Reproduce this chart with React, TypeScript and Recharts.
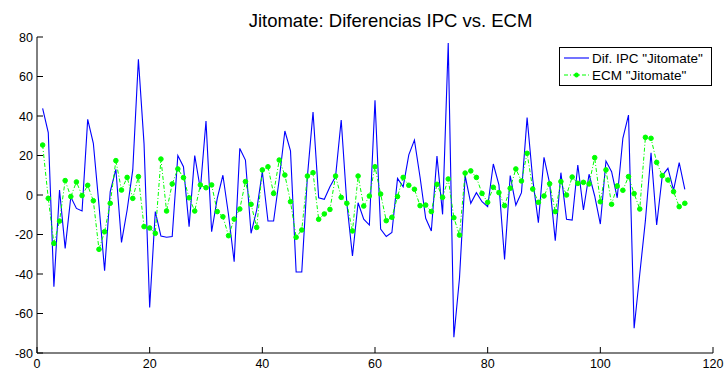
import React from "react";
import { LineChart, Line, XAxis, YAxis } from "recharts";

const TITLE = "Jitomate: Diferencias IPC vs. ECM";
const SERIES_IPC = 'Dif. IPC "Jitomate"';
const SERIES_ECM = 'ECM "Jitomate"';

const X_TICKS = [0, 20, 40, 60, 80, 100, 120];
const Y_TICKS = [-80, -60, -40, -20, 0, 20, 40, 60, 80];

const ipc = [
  43.9, 31.6, -46.4, 2.5, -27, -1, -6.8, -8.1, 38.3, 26.2,
  -5, -38.3, 1.7, 13, -24, -7.6, 12.7, 68.7, 26, -57,
  -8.4, -20.8, -21.4, -21, 20, 14.3, -16, 20, 2.9, 37.5,
  -18.6, -1.7, 10, -10, -33.8, 23.6, 17.7, -19.4, -7.6, 11.8,
  -13.2, -13.2, 8, 32.4, 22.4, -39, -39, 9.3, 42, -1.4,
  -2.2, 4.2, 9.3, 38, -4.2, -30.9, -3.9, -12.2, -15.2, 48,
  -17.2, -21, -19, 8.4, 4.2, 20.3, 27.8, 9, -11.8, -18.2,
  19.7, -9.8, 77, -72, -42, 9.8, -4.2, 1.2, -3.4, -5.9,
  15.7, 5.1, -32.6, 9.8, -5.1, 1.2, 39.2, 8, -14, 19.1,
  5.9, -23.1, 11.3, -12.3, -12.7, 15.2, -7.6, 10.5, -0.5, -14.7,
  17.2, 11.8, -1.4, 28.7, 40.5, -67.5, -40, -13, 21.4, -15.2,
  9.8, 13.5, 2.5, 16.4, 2.9,
];

const ecm = [
  25.3, -1.7, -24.5, -13.2, 7.3, -0.8, 6.6, -0.3, 4.9, -2.9,
  -27.5, -18.6, -4.2, 17.4, 2.5, 8.9, -1.7, 9.3, -16, -16.7,
  -19.4, 18.2, -8.1, 5.6, 13.2, 8.8, -1.4, -8.1, 5.1, 3.7,
  5.1, -8.4, -11, -20.6, -12.2, -7.1, 6.8, -4.7, -16.4, 12.7,
  14.3, 0.8, 17.7, 10.1, -3.4, -21.4, -17.7, 9.6, 11.3, -12.3,
  -9.6, -7.3, 9.6, -1.2, -4.2, -18.2, 9.6, -5.6, -0.5, 14.3,
  0.5, -13, -11.3, -0.8, 8.9, 4.9, 2.9, -5.4, -5.1, -8.4,
  5.4, -1.2, 8.1, -11.5, -20.3, 11.1, 12.2, 8.9, 0.8, -3.7,
  3.9, 1.2, -5.4, 3.4, 13.2, 7.1, 21.1, 3, -3.7, -0.5,
  5.7, -8.4, 6.8, 0, 9.1, 5.9, 6.4, 5.6, 18.9, -3.4,
  12.7, -4.7, 4.6, 2.4, 9.3, 0.7, -7.1, 29.2, 28.7, 16.5,
  9.8, 7.6, 1.7, -5.9, -4.2,
];

const periods = ipc.map((_, i) => i + 1);

const data = periods.map((p, i) => ({ t: p, ipc: ipc[i], ecm: ecm[i] }));

const FONT = "'Liberation Sans', Arial, Helvetica, sans-serif";
const BLUE = "#0000ff";
const GREEN = "#00ff00";
const DASH = "4 2 1 2";

const YTick = (props: any) => {
  const { x, y, payload } = props;
  const ax = x + 4;
  return (
    <g>
      <line x1={ax} y1={y} x2={ax + 6} y2={y} stroke="#000" strokeWidth={1} />
      <text x={x} y={y} dy="0.36em" textAnchor="end" fontSize={12.5} fontFamily={FONT} fill="#000">
        {payload.value}
      </text>
    </g>
  );
};

const XTick = (props: any) => {
  const { x, y, payload } = props;
  const ay = y - 4;
  return (
    <g>
      <line x1={x} y1={ay} x2={x} y2={ay - 6} stroke="#000" strokeWidth={1} />
      <text x={x} y={y + 10.5} textAnchor="middle" fontSize={12.5} fontFamily={FONT} fill="#000">
        {payload.value}
      </text>
    </g>
  );
};

const EcmDot = (props: any) => {
  const { cx, cy, index } = props;
  if (cx == null || cy == null) return <g key={index} />;
  return <circle key={index} cx={cx} cy={cy} r={2.3} fill={GREEN} stroke={GREEN} strokeWidth={1} />;
};

export default function App() {
  return (
    <div style={{ position: "absolute", left: 0, top: 0, width: 726, height: 372, background: "#fff" }}>
      <LineChart
        width={726}
        height={372}
        data={data}
        margin={{ top: 37, right: 13, bottom: 0, left: 0 }}
      >
        <XAxis
          dataKey="t"
          type="number"
          domain={[0, 120]}
          ticks={X_TICKS}
          height={19}
          tickSize={0}
          tickMargin={4}
          tickLine={false}
          axisLine={{ stroke: "#000", strokeWidth: 1 }}
          tick={<XTick />}
          interval={0}
        />
        <YAxis
          type="number"
          domain={[-80, 80]}
          ticks={Y_TICKS}
          width={37}
          tickSize={0}
          tickMargin={4}
          tickLine={false}
          axisLine={{ stroke: "#000", strokeWidth: 1 }}
          tick={<YTick />}
          interval={0}
        />
        <Line
          type="linear"
          dataKey="ipc"
          name={SERIES_IPC}
          stroke={BLUE}
          strokeWidth={1.1}
          dot={false}
          activeDot={false}
          isAnimationActive={false}
        />
        <Line
          type="linear"
          dataKey="ecm"
          name={SERIES_ECM}
          stroke={GREEN}
          strokeWidth={1}
          strokeDasharray={DASH}
          dot={<EcmDot />}
          activeDot={false}
          isAnimationActive={false}
        />
      </LineChart>
      <svg
        width={726}
        height={372}
        style={{ position: "absolute", left: 0, top: 0, pointerEvents: "none" }}
      >
        <text x={390.5} y={26.5} textAnchor="middle" fontSize={18.5} fontFamily={FONT} fill="#000">
          {TITLE}
        </text>
        <rect x={559.5} y={47.5} width={152} height={38} fill="#fff" stroke="#000" strokeWidth={1} />
        <line x1={564} y1={58} x2={589} y2={58} stroke={BLUE} strokeWidth={1.1} />
        <text x={592} y={58} dy="0.36em" fontSize={13.5} fontFamily={FONT} fill="#000">
          {SERIES_IPC}
        </text>
        <line x1={564} y1={75} x2={589} y2={75} stroke={GREEN} strokeWidth={1} strokeDasharray={DASH} />
        <circle cx={576.5} cy={75} r={2} fill={GREEN} stroke={GREEN} strokeWidth={1} />
        <text x={592} y={75} dy="0.36em" fontSize={13.5} fontFamily={FONT} fill="#000">
          {SERIES_ECM}
        </text>
      </svg>
    </div>
  );
}
